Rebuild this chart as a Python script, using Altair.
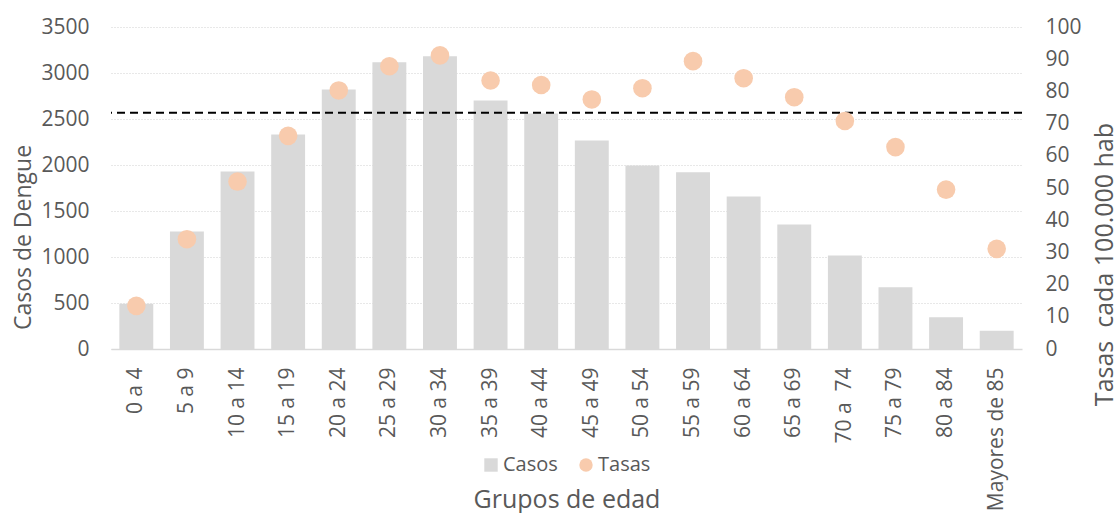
import altair as alt
import pandas as pd

# Age groups, dengue cases (left axis) and rates per 100,000 inhabitants (right axis)
grupos = ["0 a 4", "5 a 9", "10 a 14", "15 a 19", "20 a 24", "25 a 29", "30 a 34",
          "35 a 39", "40 a 44", "45 a 49", "50 a 54", "55 a 59", "60 a 64",
          "65 a 69", "70 a\u00a0 74", "75 a 79", "80 a 84", "Mayores de 85"]
casos = [493, 1277, 1930, 2332, 2822, 3116, 3181, 2702, 2561, 2267, 1995,
         1922, 1658, 1353, 1015, 670, 344, 199]
tasas = [13.4, 34.1, 52.0, 66.2, 80.3, 87.8, 91.2, 83.4, 82.0, 77.5, 81.0,
         89.4, 84.1, 78.2, 70.8, 62.7, 49.5, 31.1]
tasa_referencia = 73.4

series = ["Casos", "Tasas"]
colores = ["#d9d9d9", "#f8cbad"]
simbolos = ["square", "circle"]

df_casos = pd.DataFrame({"grupo": grupos, "valor": casos, "serie": "Casos"})
df_tasas = pd.DataFrame({"grupo": grupos, "valor": tasas, "serie": "Tasas"})

FONT = "Open Sans"
GRIS = "#595959"

x_enc = alt.X(
    "grupo:N",
    sort=grupos,
    scale=alt.Scale(paddingInner=0.33, paddingOuter=0.165),
    axis=alt.Axis(
        title="Grupos de edad",
        labelAngle=-90,
        labelAlign="right",
        labelBaseline="middle",
        labelPadding=18,
        labelFontSize=21,
        labelColor=GRIS,
        labelFont=FONT,
        ticks=False,
        domainColor="#d9d9d9",
        domainWidth=1.5,
        titleFontSize=25,
        titleFont=FONT,
        titleFontWeight="normal",
        titleColor=GRIS,
        titleY=150,
        titleBaseline="middle",
    ),
)

color_enc = alt.Color(
    "serie:N",
    scale=alt.Scale(domain=series, range=colores),
    legend=alt.Legend(
        title=None,
        orient="none",
        legendX=370,
        legendY=428,
        direction="horizontal",
        labelFont=FONT,
        labelFontSize=20,
        labelColor=GRIS,
        symbolSize=180,
        symbolStrokeWidth=0,
        labelOffset=2,
        columnPadding=18,
    ),
)

barras = alt.Chart(df_casos).mark_bar(color="#d9d9d9").encode(
    x=x_enc,
    y=alt.Y(
        "valor:Q",
        scale=alt.Scale(domain=[0, 3500], nice=False),
        axis=alt.Axis(
            orient="left",
            title="Casos de Dengue",
            values=list(range(0, 3501, 500)),
            format="d",
            grid=True,
            gridColor="#d0d0d0",
            gridDash=[1, 2],
            gridWidth=1,
            domain=False,
            ticks=False,
            labelPadding=22,
            labelFont=FONT,
            labelFontSize=21,
            labelColor=GRIS,
            titleFont=FONT,
            titleFontSize=23,
            titleFontWeight="normal",
            titleColor=GRIS,
            titleX=-88,
            titleY=210,
            titleBaseline="middle",
            titleAngle=270,
        ),
    ),
    color=color_enc,
)

referencia = alt.Chart(pd.DataFrame({"tasa": [tasa_referencia]})).mark_rule(
    color="black", strokeDash=[8, 5], strokeWidth=2
).encode(
    y=alt.Y("tasa:Q", scale=alt.Scale(domain=[0, 100], nice=False), axis=None),
)

puntos = alt.Chart(df_tasas).mark_point(filled=True, opacity=1, size=346).encode(
    x=x_enc,
    y=alt.Y(
        "valor:Q",
        scale=alt.Scale(domain=[0, 100], nice=False),
        axis=alt.Axis(
            orient="right",
            title="Tasas\u00a0 cada 100.000 hab",
            values=list(range(0, 101, 10)),
            grid=False,
            domain=False,
            ticks=False,
            labelPadding=23,
            labelFont=FONT,
            labelFontSize=21,
            labelColor=GRIS,
            titleFont=FONT,
            titleFontSize=25,
            titleFontWeight="normal",
            titleColor=GRIS,
            titleX=82,
            titleY=237,
            titleBaseline="middle",
            titleAngle=270,
        ),
    ),
    color=color_enc,
    shape=alt.Shape("serie:N", scale=alt.Scale(domain=series, range=simbolos)),
)

chart = (
    alt.layer(barras, referencia, puntos)
    .resolve_scale(y="independent")
    .properties(
        width=911,
        height=322,
        padding={"left": 111, "top": 27, "right": 98, "bottom": 164},
        autosize=alt.AutoSizeParams(type="none"),
        background="white",
    )
    .configure_view(stroke=None)
)

chart.save("out.html", embed_options={"renderer": "svg", "actions": False})
